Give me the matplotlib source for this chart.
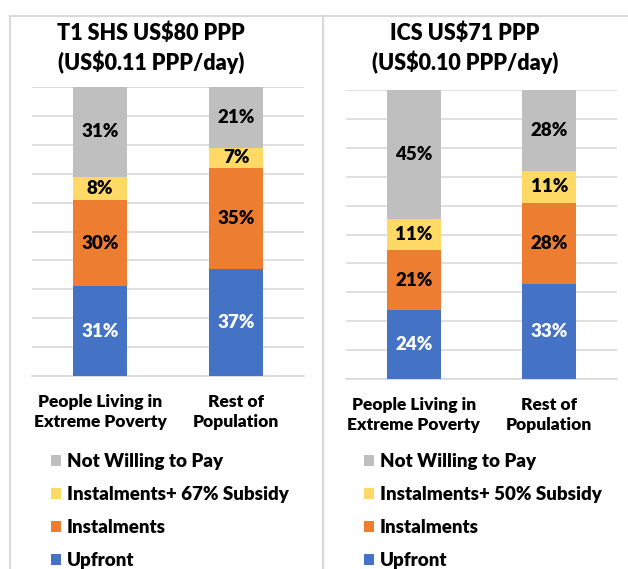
import matplotlib
matplotlib.use("Agg")
import matplotlib.pyplot as plt
import numpy as np
from matplotlib.lines import Line2D

plt.rcParams['font.family'] = ['Lato', 'DejaVu Sans']
plt.rcParams['font.weight'] = 'heavy'
W8 = 'heavy'

categories = ["People Living in\nExtreme Poverty", "Rest of\nPopulation"]
series_names_1 = ["Upfront", "Instalments", "Instalments+ 67% Subsidy", "Not Willing to Pay"]
series_names_2 = ["Upfront", "Instalments", "Instalments+ 50% Subsidy", "Not Willing to Pay"]
colors = ["#4472C4", "#ED7D31", "#FFD966", "#BFBFBF"]
label_colors = ["white", "black", "black", "black"]

titles = ["T1 SHS US$80 PPP\n(US$0.11 PPP/day)", "ICS US$71 PPP\n(US$0.10 PPP/day)"]

# panel 1: T1 SHS
shs_upfront = [31, 37]
shs_instal = [30, 35]
shs_subsidy = [8, 7]
shs_notwilling = [31, 21]
# panel 2: ICS
ics_upfront = [24, 33]
ics_instal = [21, 28]
ics_subsidy = [11, 11]
ics_notwilling = [45, 28]

panels = [
    ([shs_upfront, shs_instal, shs_subsidy, shs_notwilling], series_names_1),
    ([ics_upfront, ics_instal, ics_subsidy, ics_notwilling], series_names_2),
]

W, H = 628, 569
fig = plt.figure(figsize=(W / 100, H / 100), dpi=100)

def fx(px):
    return px / W

def fy(py):
    return 1 - py / H

axes_px = [(32, 87, 304, 376), (346, 90, 617, 379)]
title_cx = [151, 465]
legend_x = [51, 364]

grid_col = "#D9D9D9"

# panel frames
fig.add_artist(Line2D([fx(10), fx(628)], [fy(15.5), fy(15.5)], color=grid_col, lw=1.5, transform=fig.transFigure))
fig.add_artist(Line2D([fx(10), fx(10)], [fy(15.5), fy(569)], color=grid_col, lw=1.5, transform=fig.transFigure))
fig.add_artist(Line2D([fx(323), fx(323)], [fy(15.5), fy(569)], color=grid_col, lw=1.5, transform=fig.transFigure))

for i, (series, names) in enumerate(panels):
    l, t, r, b = axes_px[i]
    ax = fig.add_axes([fx(l), fy(b), fx(r) - fx(l), fy(t) - fy(b)])
    data = np.array(series, dtype=float)
    totals = data.sum(axis=0)
    frac = data / totals
    x = np.arange(len(categories))
    bottom = np.zeros(len(categories))
    handles = []
    for k in range(len(series)):
        bars = ax.bar(x, frac[k], 0.4, bottom=bottom, color=colors[k], zorder=3, label=names[k])
        handles.append(bars)
        for j in range(len(categories)):
            ax.text(x[j], bottom[j] + frac[k][j] / 2, f"{int(series[k][j])}%",
                    ha="center", va="center", color=label_colors[k],
                    fontsize=13.5, fontweight=W8, zorder=4)
        bottom += frac[k]
    ax.set_ylim(0, 1)
    ax.set_xlim(-0.5, 1.5)
    ax.set_yticks(np.linspace(0, 1, 11))
    ax.yaxis.grid(True, color=grid_col, lw=1.2, zorder=0)
    ax.tick_params(axis="y", left=False, labelleft=False)
    ax.tick_params(axis="x", bottom=False, pad=9.5)
    ax.set_xticks(x)
    ax.set_xticklabels(categories, fontsize=12.5, fontweight=W8, linespacing=1.3)
    for s in ["top", "left", "right"]:
        ax.spines[s].set_visible(False)
    ax.spines["bottom"].set_color(grid_col)
    ax.spines["bottom"].set_linewidth(1.2)
    ax.set_axisbelow(True)

    fig.text(fx(title_cx[i]), fy(48), titles[i], ha="center", va="center",
             fontsize=15.5, fontweight=W8, linespacing=1.33)

    leg = fig.legend(handles[::-1], names[::-1], loc="upper left",
                     bbox_to_anchor=(fx(legend_x[i]), fy(453)),
                     frameon=False, fontsize=13.5, handlelength=0.55, handleheight=0.55,
                     handletextpad=0.3, labelspacing=0.86, borderaxespad=0, borderpad=0)
    for txt in leg.get_texts():
        txt.set_fontweight(W8)

fig.savefig("out.png", dpi=100, facecolor="white")
